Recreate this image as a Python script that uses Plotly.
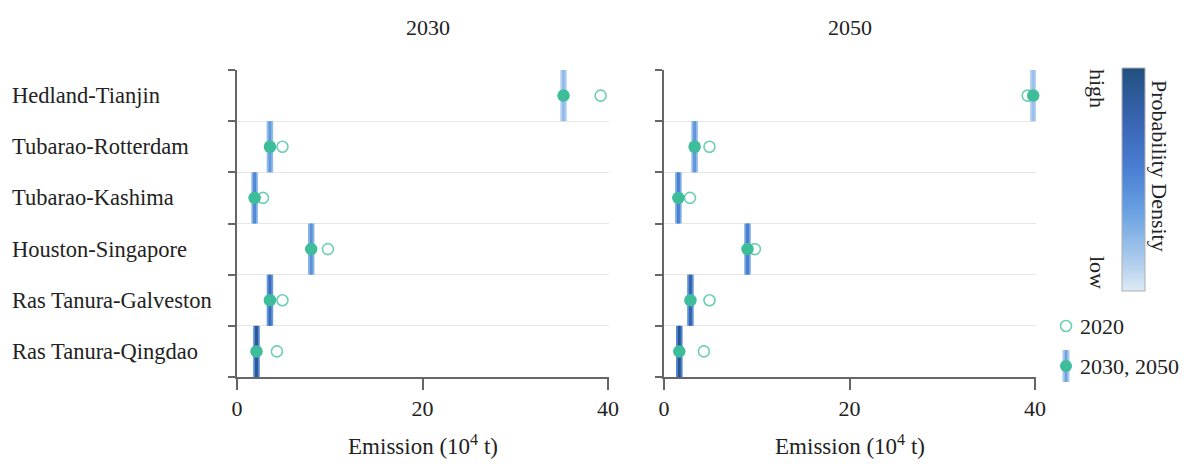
import plotly.graph_objects as go

W, H = 1198, 464

routes = ["Hedland-Tianjin", "Tubarao-Rotterdam", "Tubarao-Kashima",
          "Houston-Singapore", "Ras Tanura-Galveston", "Ras Tanura-Qingdao"]
years = ["2030", "2050"]

# emission 2020 baseline (open circles), 10^4 t
e2020 = [39.2, 4.9, 2.8, 9.8, 4.9, 4.3]
# projected emission (filled dots)
e2030 = [35.2, 3.55, 1.9, 8.0, 3.55, 2.1]
e2050 = [39.8, 3.3, 1.55, 9.0, 2.85, 1.65]
# relative peak probability density of each projection (0 = low, 1 = high)
dens2030 = [0.22, 0.40, 0.50, 0.45, 0.72, 0.92]
dens2050 = [0.20, 0.42, 0.55, 0.58, 0.80, 0.94]

FONT = "Liberation Serif"
TXT = "#222222"
AX = "#666666"
TEAL = "#3dbd9a"
TEAL_OPEN = "#6ccfb5"
cscale = [[0.0, "#dde9f5"], [0.15, "#a9c9ec"], [0.35, "#6aa2e2"],
          [0.55, "#4a7ed2"], [0.75, "#3a66b6"], [1.0, "#22507f"]]

fig = go.Figure()

def px_x(p):
    return p / W

def px_y(p):
    return 1 - p / H

for i, (vals, dens) in enumerate([(e2030, dens2030), (e2050, dens2050)]):
    xa = "x" if i == 0 else "x2"
    ya = "y" if i == 0 else "y2"
    w_out, w_in = 0.7, 0.3
    # outer (lighter) part of density strip
    fig.add_trace(go.Bar(
        y=routes, x=[w_out] * len(routes), base=[v - w_out / 2 for v in vals],
        orientation="h", width=1.0, xaxis=xa, yaxis=ya, showlegend=False,
        marker=dict(color=[d * 0.55 for d in dens], colorscale=cscale, cmin=0, cmax=1,
                    line=dict(width=0)),
        hoverinfo="skip"))
    # inner (peak) part of density strip
    fig.add_trace(go.Bar(
        y=routes, x=[w_in] * len(routes), base=[v - w_in / 2 for v in vals],
        orientation="h", width=1.0, xaxis=xa, yaxis=ya, showlegend=False,
        marker=dict(color=dens, colorscale=cscale, cmin=0, cmax=1, line=dict(width=0),
                    showscale=(i == 0),
                    colorbar=dict(x=px_x(1122), xanchor="left", thickness=23,
                                  lenmode="pixels", len=223, y=px_y(179.5),
                                  yanchor="middle", outlinewidth=1, outlinecolor="#b0b0b0",
                                  showticklabels=False, ticks="", xpad=0, ypad=0)),
        hoverinfo="skip"))
    fig.add_trace(go.Scatter(
        y=routes, x=e2020, mode="markers", xaxis=xa, yaxis=ya, showlegend=False,
        cliponaxis=False,
        marker=dict(symbol="circle-open", size=11, color=TEAL_OPEN, line=dict(width=1.6))))
    fig.add_trace(go.Scatter(
        y=routes, x=vals, mode="markers", xaxis=xa, yaxis=ya, showlegend=False,
        cliponaxis=False,
        marker=dict(symbol="circle", size=12.5, color=TEAL, line=dict(width=0))))

xcommon = dict(range=[0, 40.1], tickvals=[0, 20, 40], ticks="outside", ticklen=11,
               tickwidth=1.5, tickcolor=AX, showline=True, linecolor=AX, linewidth=1.5,
               showgrid=False, zeroline=False,
               tickfont=dict(family=FONT, size=22, color=TXT),
               title=dict(text="Emission (10<sup>4</sup> t)",
                          font=dict(family=FONT, size=23, color=TXT), standoff=18))
ycommon = dict(type="category", categoryorder="array", categoryarray=routes[::-1],
               tickson="boundaries", ticks="outside", ticklen=7, tickwidth=1.5,
               tickcolor=AX, showline=True, linecolor=AX, linewidth=1.5,
               showgrid=True, gridcolor="#e6e6e6", gridwidth=1.2,
               showticklabels=False, zeroline=False,
               domain=[(H - 377) / H, (H - 70) / H])

annotations = []
for r in routes:
    annotations.append(dict(text=r, x=px_x(10), xref="paper", xanchor="left",
                            y=r, yref="y", yanchor="middle", showarrow=False,
                            font=dict(family=FONT, size=22.5, color=TXT)))
for yr, cx in zip(years, [428, 850]):
    annotations.append(dict(text=yr, x=px_x(cx), y=px_y(28), xref="paper", yref="paper",
                            xanchor="center", yanchor="middle", showarrow=False,
                            font=dict(family=FONT, size=22, color=TXT)))
for t, cy in [("high", 88), ("low", 272)]:
    annotations.append(dict(text=t, x=px_x(1098), y=px_y(cy), xref="paper", yref="paper",
                            xanchor="center", yanchor="middle", textangle=90, showarrow=False,
                            font=dict(family=FONT, size=22, color=TXT)))
annotations.append(dict(text="Probability Density", x=px_x(1160), y=px_y(166),
                        xref="paper", yref="paper", xanchor="center", yanchor="middle",
                        textangle=90, showarrow=False,
                        font=dict(family=FONT, size=22, color=TXT)))
# legend text
for t, cy in [("2020", 326), ("2030, 2050", 366)]:
    annotations.append(dict(text=t, x=px_x(1078), y=px_y(cy), xref="paper", yref="paper",
                            xanchor="left", yanchor="middle", showarrow=False,
                            font=dict(family=FONT, size=22, color=TXT)))

def pshape(kind, cx, cy, hw, hh, **kw):
    return dict(type=kind, xref="paper", yref="paper", xsizemode="pixel", ysizemode="pixel",
                xanchor=px_x(cx), yanchor=px_y(cy), x0=-hw, x1=hw, y0=-hh, y1=hh, **kw)

shapes = [
    pshape("circle", 1066, 326, 5.5, 5.5, line=dict(color=TEAL_OPEN, width=1.6)),
    pshape("rect", 1066, 366, 3.5, 16, fillcolor="#a9c9ec", line=dict(width=0)),
    pshape("rect", 1066, 366, 1.3, 16, fillcolor="#6aa2e2", line=dict(width=0)),
    pshape("circle", 1066, 366, 6, 6, fillcolor=TEAL, line=dict(width=0)),
]

fig.update_layout(
    width=W, height=H, margin=dict(l=0, r=0, t=0, b=0, autoexpand=False),
    paper_bgcolor="white", plot_bgcolor="white", barmode="overlay",
    xaxis=dict(domain=[237 / W, 609 / W], anchor="y", **xcommon),
    xaxis2=dict(domain=[664 / W, 1036 / W], anchor="y2", **xcommon),
    yaxis=dict(anchor="x", **ycommon),
    yaxis2=dict(anchor="x2", **ycommon),
    annotations=annotations, shapes=shapes, showlegend=False,
    font=dict(family=FONT, color=TXT),
)

fig.write_html("out.html")
